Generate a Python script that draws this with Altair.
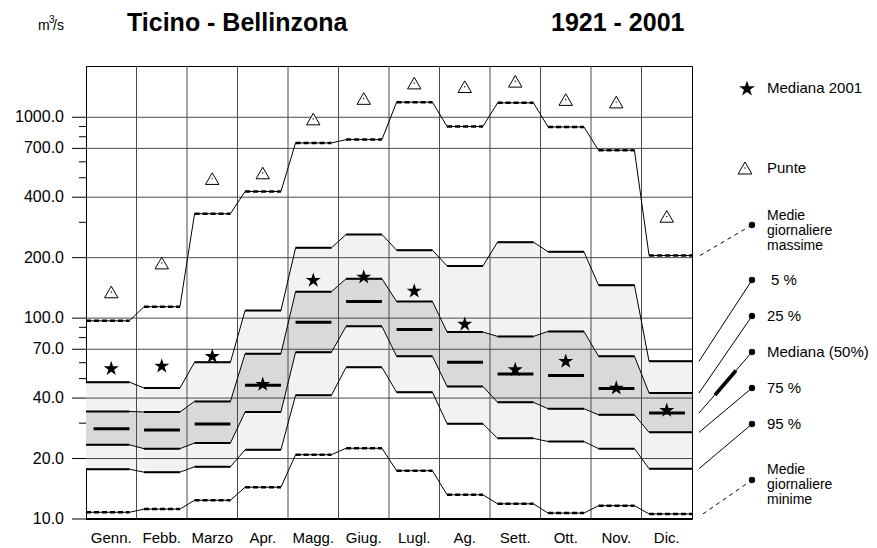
import altair as alt
import pandas as pd

# ---------------- data (m3/s) ----------------
months = ["Genn.", "Febb.", "Marzo", "Apr.", "Magg.", "Giug.",
          "Lugl.", "Ag.", "Sett.", "Ott.", "Nov.", "Dic."]
peaks = [135, 188, 495, 528, 980, 1240, 1480, 1420, 1510, 1225, 1190, 321]
max_daily = [97, 114, 331, 427, 745, 774, 1188, 900, 1180, 895, 685, 205]
p5 = [48, 44.9, 60.3, 109, 224, 261, 218, 182, 239, 214, 146, 61]
p25 = [34.3, 34.1, 38.5, 66.5, 135.5, 157, 121, 85.3, 81.1, 85.9, 64.6, 42.4]
median = [28.1, 27.7, 29.7, 46.3, 95.3, 121, 87.7, 60.3, 52.7, 51.8, 44.6, 33.7]
p75 = [23.4, 22.4, 23.9, 34.1, 67.6, 91, 64.6, 45.7, 38.1, 35.4, 33.0, 27.0]
p95 = [17.7, 17.1, 18.2, 22.1, 41.3, 56.9, 42.8, 29.8, 25.2, 24.3, 22.4, 17.8]
min_daily = [10.8, 11.2, 12.4, 14.4, 20.9, 22.5, 17.4, 13.2, 11.9, 10.7, 11.65, 10.6]
median_2001 = [56.5, 58.2, 65, 47.2, 155.6, 161.5, 137.5, 94, 55.8, 61.4, 45.2, 35.0]

major_ticks = [10, 20, 40, 70, 100, 200, 400, 700, 1000]
minor_ticks = [30, 50, 60, 80, 90, 300, 500, 600, 800, 900]
grid_y = [20, 40, 70, 100, 200, 400, 700, 1000]

# ---------------- layout ----------------
FONT = "Liberation Sans"
W, H = 606, 453
N = len(months)
A, B = 0.15, 0.86  # flat part of each month

yscale = alt.Scale(type="log", domain=[10, 1800], nice=False)
xscale = alt.Scale(domain=[0, N], nice=False, zero=False)


def X(f="x"):
    return alt.X(f"{f}:Q", scale=xscale, axis=None)


def Y(f="v"):
    return alt.Y(f"{f}:Q", scale=yscale, axis=None)


def bounds(i):
    a = 0.0 if i == 0 else A
    b = float(N) if i == N - 1 else i + B
    return i + a, b


# step points
rows = []
series = {"max": max_daily, "p5": p5, "p25": p25, "p75": p75, "p95": p95, "min": min_daily}
for name, vals in series.items():
    for i, v in enumerate(vals):
        a, b = bounds(i)
        rows.append({"s": name, "x": a, "v": v})
        rows.append({"s": name, "x": b, "v": v})
steps = pd.DataFrame(rows)

band_rows = []
for i in range(N):
    a, b = bounds(i)
    for xx in (a, b):
        band_rows.append({"x": xx, "hi5": p5[i], "lo95": p95[i], "hi25": p25[i], "lo75": p75[i]})
bands = pd.DataFrame(band_rows)

flat_rows = []
for name, vals in series.items():
    for i, v in enumerate(vals):
        a, b = bounds(i)
        flat_rows.append({"s": name, "x": a, "x2": b, "v": v})
flats = pd.DataFrame(flat_rows)
flats_solid = flats[flats.s.isin(["p5", "p25", "p75", "p95"])]
flats_dash = flats[flats.s.isin(["max", "min"])]

med_df = pd.DataFrame({"x": [i + A for i in range(N)], "x2": [i + B for i in range(N)], "v": median})
pts = pd.DataFrame({"xc": [i + 0.5 for i in range(N)], "peak": peaks, "star": median_2001,
                    "m": months})

layers = []
# shading
layers.append(alt.Chart(bands).mark_area(color="#f2f2f2", opacity=1).encode(x=X(), y=Y("hi5"), y2="lo95:Q"))
layers.append(alt.Chart(bands).mark_area(color="#d9d9d9", opacity=1).encode(x=X(), y=Y("hi25"), y2="lo75:Q"))

# grid
layers.append(alt.Chart(pd.DataFrame({"v": grid_y})).mark_rule(color="#4a4a4a", strokeWidth=1)
              .encode(y=Y(), x=alt.value(0), x2=alt.value(W)))
layers.append(alt.Chart(pd.DataFrame({"x": list(range(1, N))})).mark_rule(color="#4a4a4a", strokeWidth=1)
              .encode(x=X(), y=alt.value(0), y2=alt.value(H)))

# thin connecting lines
layers.append(alt.Chart(steps).mark_line(color="black", strokeWidth=1)
              .encode(x=X(), y=Y(), detail="s:N"))
# flats
layers.append(alt.Chart(flats_solid).mark_rule(color="black", strokeWidth=2)
              .encode(x=X(), x2="x2:Q", y=Y()))
layers.append(alt.Chart(flats_dash).mark_rule(color="black", strokeWidth=2.5, strokeDash=[5, 3])
              .encode(x=X(), x2="x2:Q", y=Y()))
layers.append(alt.Chart(med_df).mark_rule(color="black", strokeWidth=3)
              .encode(x=X(), x2="x2:Q", y=Y()))

STAR = ("M0,-0.905 L0.225,-0.214 L0.951,-0.214 L0.363,0.213 L0.588,0.904 L0,0.477 "
        "L-0.588,0.904 L-0.363,0.213 L-0.951,-0.214 L-0.225,-0.214 Z")

layers.append(alt.Chart(pts).mark_point(shape="triangle-up", filled=True, fill="white", stroke="black",
                                        strokeWidth=1, size=180, opacity=1)
              .encode(x=X("xc"), y=Y("peak")))
layers.append(alt.Chart(pts).mark_point(shape="circle", filled=True, color="black", size=2, opacity=1)
              .encode(x=X("xc"), y=Y("peak")))
layers.append(alt.Chart(pts).mark_point(shape=STAR, filled=True, color="black", size=250, opacity=1)
              .encode(x=X("xc"), y=Y("star")))

# frame bottom / ticks / labels
one = pd.DataFrame({"d": [0]})
layers.append(alt.Chart(one).mark_rule(color="black", strokeWidth=2)
              .encode(x=alt.value(0), x2=alt.value(W), y=alt.value(H)))
layers.append(alt.Chart(pd.DataFrame({"v": major_ticks})).mark_rule(color="black", strokeWidth=1)
              .encode(y=Y(), x=alt.value(-14), x2=alt.value(0)))
layers.append(alt.Chart(pd.DataFrame({"v": minor_ticks})).mark_rule(color="black", strokeWidth=1)
              .encode(y=Y(), x=alt.value(-7), x2=alt.value(0)))
layers.append(alt.Chart(pd.DataFrame({"v": major_ticks, "t": [f"{t:.1f}" for t in major_ticks]}))
              .mark_text(align="right", baseline="middle", font=FONT, fontSize=16, color="black")
              .encode(y=Y(), x=alt.value(-22), text="t:N"))
layers.append(alt.Chart(pts).mark_text(align="center", baseline="alphabetic", font=FONT, fontSize=15,
                                       color="black")
              .encode(x=X("xc"), y=alt.value(H + 24), text="m:N"))

# titles
def txt(s, x, y, size, bold=False, align="left", baseline="alphabetic", lb=None, lh=None):
    kw = dict(align=align, baseline=baseline, font=FONT, fontSize=size, color="black",
              fontWeight="bold" if bold else "normal")
    if lb:
        kw["lineBreak"] = lb
        kw["lineHeight"] = lh
    return (alt.Chart(pd.DataFrame({"t": [s]})).mark_text(**kw)
            .encode(text="t:N", x=alt.value(x), y=alt.value(y)))


layers.append(txt("Ticino - Bellinzona", 41, -35, 25, bold=True))
layers.append(txt("1921 - 2001", 465, -35, 25, bold=True))
layers.append(txt("m", -48, -36, 14))
layers.append(txt("3", -37, -43, 10))
layers.append(txt("/s", -33, -36, 14))

# legend
LX = 681
layers.append(alt.Chart(one).mark_point(shape=STAR, filled=True, color="black", size=280, opacity=1)
              .encode(x=alt.value(661), y=alt.value(22)))
layers.append(txt("Mediana  2001", LX, 22, 15, baseline="middle"))
layers.append(alt.Chart(one).mark_point(shape="triangle-up", filled=True, fill="white", stroke="black",
                                        strokeWidth=1, size=190, opacity=1)
              .encode(x=alt.value(659), y=alt.value(102)))
layers.append(alt.Chart(one).mark_point(shape="circle", filled=True, color="black", size=2, opacity=1)
              .encode(x=alt.value(659), y=alt.value(102)))
layers.append(txt("Punte", LX, 102, 15, baseline="middle"))

leaders = [
    (max_daily[-1], 614, 159, True, "Medie\ngiornaliere\nmassime", 150),
    (p5[-1], 613, 214, False, "5 %", 214),
    (p25[-1], 613, 250, False, "25 %", 250),
    (median[-1], 613, 286, False, "Mediana (50%)", 286),
    (p75[-1], 613, 322, False, "75 %", 322),
    (p95[-1], 613, 358, False, "95 %", 358),
    (min_daily[-1], 617, 414, True, "Medie\ngiornaliere\nminime", 404),
]
for val, x0, dy, dashed, label, ty in leaders:
    kw = dict(color="black", strokeWidth=1)
    if dashed:
        kw["strokeDash"] = [4, 4]
    layers.append(alt.Chart(pd.DataFrame({"v": [val]})).mark_rule(**kw)
                  .encode(y=Y(), x=alt.value(x0), x2=alt.value(666), y2=alt.value(dy)))
    layers.append(alt.Chart(one).mark_point(shape="circle", filled=True, color="black", size=40, opacity=1)
                  .encode(x=alt.value(666), y=alt.value(dy)))
    lx = LX + 4 if label == "5 %" else LX
    if "\n" in label:
        layers.append(txt(label, lx, ty, 14, baseline="middle", lb="\n", lh=15))
    else:
        layers.append(txt(label, lx, ty, 15, baseline="middle"))

layers.append(alt.Chart(one).mark_rule(color="black", strokeWidth=3.5)
              .encode(x=alt.value(629), x2=alt.value(650), y=alt.value(329), y2=alt.value(304.5)))

chart = (alt.layer(*layers)
         .properties(width=W, height=H,
                     padding={"left": 78, "top": 58, "right": 177, "bottom": 29},
                     autosize=alt.AutoSizeParams(type="none"),
                     background="white")
         .configure_view(stroke="black", strokeWidth=1))

chart.save("out.html", embed_options={"renderer": "svg", "actions": False})
